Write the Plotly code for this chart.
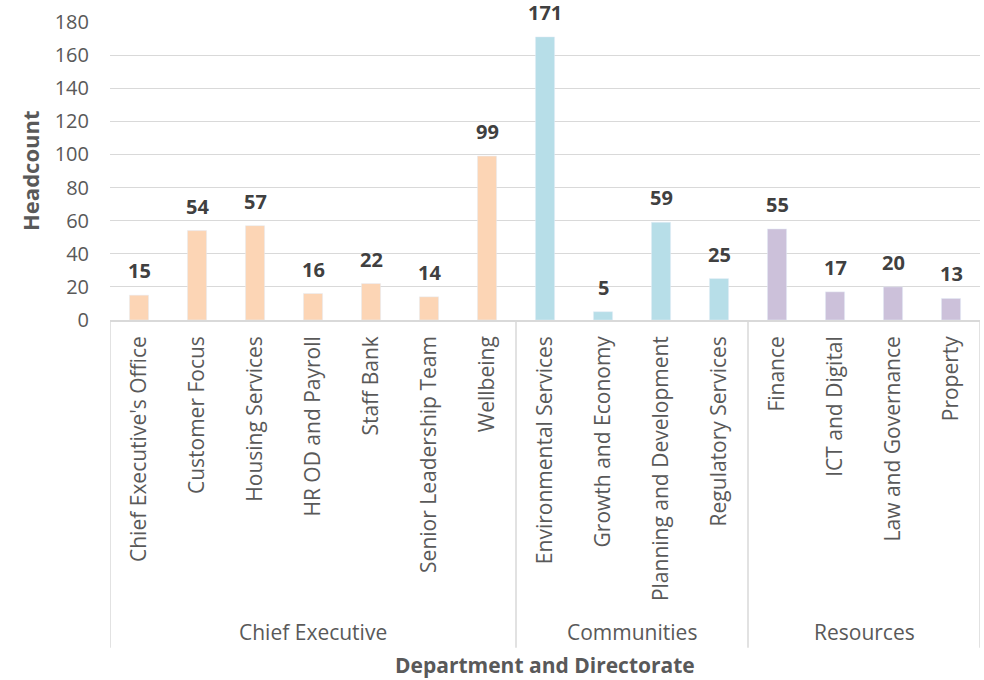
import plotly.graph_objects as go

# Headcount by department, grouped by directorate
directorates = ["Chief Executive", "Communities", "Resources"]
chief_exec_depts = ["Chief Executive's Office", "Customer Focus", "Housing Services",
                    "HR OD and Payroll", "Staff Bank", "Senior Leadership Team", "Wellbeing"]
chief_exec_counts = [15, 54, 57, 16, 22, 14, 99]
communities_depts = ["Environmental Services", "Growth and Economy",
                     "Planning and Development", "Regulatory Services"]
communities_counts = [171, 5, 59, 25]
resources_depts = ["Finance", "ICT and Digital", "Law and Governance", "Property"]
resources_counts = [55, 17, 20, 13]
y_ticks = [0, 20, 40, 60, 80, 100, 120, 140, 160, 180]

colors = ["#FCD5B5", "#B7DEE8", "#CCC1DA"]
FONT = "Open Sans"
groups = [(chief_exec_depts, chief_exec_counts),
          (communities_depts, communities_counts),
          (resources_depts, resources_counts)]

fig = go.Figure()
annotations = []
shapes = []
start = 0
boundaries = [-0.5]
for (depts, counts), name, col in zip(groups, directorates, colors):
    fig.add_trace(go.Bar(x=depts, y=counts, name=name, marker_color=col,
                         width=0.33, hoverinfo="x+y"))
    for d, v in zip(depts, counts):
        annotations.append(dict(x=d, y=v, xref="x", yref="y", text=f"<b>{v}</b>",
                                showarrow=False, yanchor="bottom", yshift=10,
                                borderpad=0,
                                font=dict(family=FONT, size=20, color="#404040")))
    center = start + (len(depts) - 1) / 2
    annotations.append(dict(x=center, y=-1.047, xref="x", yref="paper", text=name,
                            showarrow=False, yanchor="middle",
                            font=dict(family=FONT, size=21, color="#595959")))
    start += len(depts)
    boundaries.append(start - 0.5)

for b in boundaries:
    shapes.append(dict(type="line", xref="x", yref="paper", x0=b, x1=b, y0=0, y1=-1.10,
                       line=dict(color="#D9D9D9", width=1.5)))

annotations.append(dict(x=0.5, y=-1.158, xref="paper", yref="paper",
                        text="<b>Department and Directorate</b>", showarrow=False,
                        yanchor="middle",
                        font=dict(family=FONT, size=21, color="#595959")))
annotations.append(dict(x=-0.092, y=0.5, xref="paper", yref="paper",
                        text="<b>Headcount</b>", showarrow=False, textangle=-90,
                        xanchor="center", yanchor="middle",
                        font=dict(family=FONT, size=22, color="#595959")))

fig.update_layout(
    width=984, height=680,
    margin=dict(l=110, r=4, t=22, b=360),
    plot_bgcolor="white", paper_bgcolor="white",
    barmode="overlay", showlegend=False,
    font=dict(family=FONT, color="#595959"),
    annotations=annotations, shapes=shapes,
    xaxis=dict(range=[-0.5, start - 0.5], tickangle=-90, ticks="",
               tickfont=dict(family=FONT, size=21, color="#595959"),
               showline=True, linecolor="#D9D9D9", linewidth=1.5,
               showgrid=False, ticklabelstandoff=6),
    yaxis=dict(range=[0, 180], tickvals=y_ticks, ticks="",
               tickfont=dict(family=FONT, size=20, color="#595959"),
               showgrid=True, gridcolor="#D9D9D9", gridwidth=1,
               zeroline=False, showline=False, ticklabelstandoff=20),
)

fig.write_html("out.html")
